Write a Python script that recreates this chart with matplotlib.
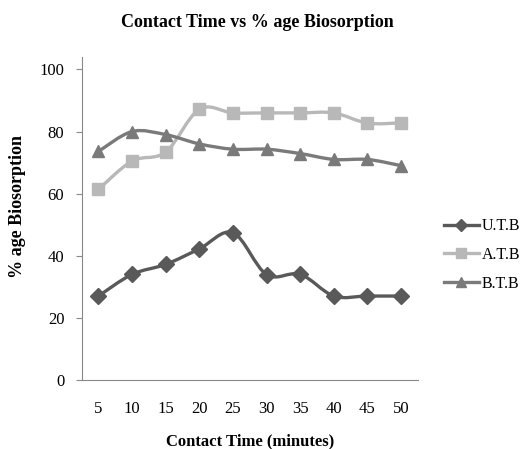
import matplotlib.pyplot as plt
from matplotlib.path import Path
from matplotlib.patches import PathPatch
from matplotlib.lines import Line2D

plt.rcParams['font.family'] = ['Liberation Serif', 'DejaVu Serif']

times = ['5', '10', '15', '20', '25', '30', '35', '40', '45', '50']
utb = [27, 34, 37.2, 42.2, 47.4, 33.9, 34, 27, 27, 27]
atb = [61.4, 70.5, 73.4, 87.2, 86, 86, 86, 86, 82.7, 82.8]
btb = [73.6, 80, 79, 76, 74.3, 74.3, 72.9, 71, 71, 69]

series = [
    ('U.T.B', utb, '#595959', 'D', 8),
    ('A.T.B', atb, '#b8b8b8', 's', 9),
    ('B.T.B', btb, '#7a7a7a', '^', 9),
]


def smooth_path(xs, ys):
    # Excel style smoothed line: cubic bezier through every point
    n = len(xs)
    verts = [(xs[0], ys[0])]
    codes = [Path.MOVETO]
    for i in range(n - 1):
        x0, y0 = (xs[i - 1], ys[i - 1]) if i > 0 else (xs[i], ys[i])
        x1, y1 = xs[i], ys[i]
        x2, y2 = xs[i + 1], ys[i + 1]
        x3, y3 = (xs[i + 2], ys[i + 2]) if i + 2 < n else (x2, y2)
        c1 = (x1 + (x2 - x0) / 6, y1 + (y2 - y0) / 6)
        c2 = (x2 - (x3 - x1) / 6, y2 - (y3 - y1) / 6)
        verts += [c1, c2, (x2, y2)]
        codes += [Path.CURVE4] * 3
    return Path(verts, codes)


fig = plt.figure(figsize=(5.27, 4.49), dpi=100)
ax = fig.add_axes([0.155, 0.154, 0.638, 0.719])

x = list(range(len(times)))
handles = []
for name, vals, col, mk, ms in series:
    ax.add_patch(PathPatch(smooth_path(x, vals), facecolor='none',
                           edgecolor=col, lw=2.4, zorder=2))
    ax.plot(x, vals, ls='none', marker=mk, ms=ms, color=col, zorder=3)
    handles.append(Line2D([], [], color=col, lw=2.4, marker=mk, ms=ms - 2))

ax.set_xlim(-0.5, len(times) - 0.5)
ax.set_ylim(0, 104)
ax.set_yticks([0, 20, 40, 60, 80, 100])
ax.set_xticks(x)
ax.set_xticklabels(times)
ax.tick_params(axis='x', length=0, pad=15, labelsize=12)
ax.tick_params(axis='y', length=4.5, color='#888888', pad=8, labelsize=12)
for s in ['top', 'right']:
    ax.spines[s].set_visible(False)
for s in ['left', 'bottom']:
    ax.spines[s].set_color('#888888')

fig.text(0.488, 0.951, 'Contact Time vs % age Biosorption', ha='center',
         va='center', fontsize=13, fontweight='bold')
fig.text(0.474, 0.016, 'Contact Time (minutes)', ha='center', va='center',
         fontsize=12, fontweight='bold')
fig.text(0.034, 0.539, '% age Biosorption', ha='center', va='center',
         rotation=90, fontsize=13, fontweight='bold')

fig.legend(handles, [s[0] for s in series], loc='center left',
           bbox_to_anchor=(0.815, 0.432), frameon=False, fontsize=11.5,
           handlelength=2.2, handletextpad=0.15, labelspacing=0.8)

fig.savefig('out.png', dpi=100)
